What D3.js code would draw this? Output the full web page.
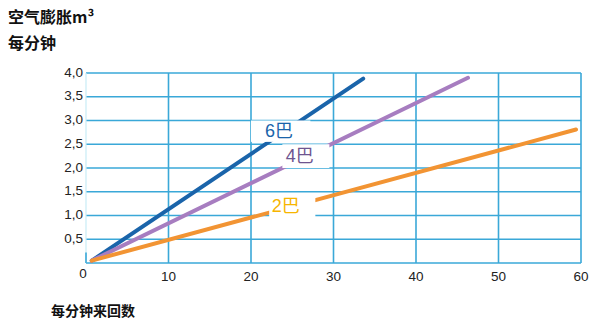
<!DOCTYPE html>
<html><head><meta charset="utf-8">
<script src="https://cdn.jsdelivr.net/npm/d3@7"></script>
<style>body{margin:0;background:#fff}svg{display:block}</style>
</head><body>
<svg id="c" width="593" height="322"></svg>
<script>
const xTicks = [10, 20, 30, 40, 50, 60];
const yTicks = [0.5, 1.0, 1.5, 2.0, 2.5, 3.0, 3.5, 4.0];
const seriesNames = ["6巴", "4巴", "2巴"];
const seriesPoints = [
  [[0.7, 0.05], [33.6, 3.88]],
  [[0.7, 0.05], [46.3, 3.9]],
  [[0.7, 0.05], [59.4, 2.81]]
];
const lineColors = ["#1a64aa", "#a77dc0", "#f29433"];
const labelColors = ["#1a64aa", "#6e5590", "#f7b500"];
// label anchor positions (data coords) and white box extents
const labelPos = [[21.7, 2.75], [24.2, 2.22], [22.5, 1.18]];
const labelBox = [[20, 2.55, 27.2, 3.0], [23.8, 2.0, 29.5, 2.5], [22.2, 0.9, 27.8, 1.4]];

const svg = d3.select("#c");
const x = d3.scaleLinear().domain([0, 60]).range([86, 581]);
const y = d3.scaleLinear().domain([0, 4]).range([263, 73]);
const grid = "#3aa8d8";

// grid
svg.append("g").selectAll("line").data(yTicks).join("line")
  .attr("x1", x(0)).attr("x2", x(60)).attr("y1", d => y(d)).attr("y2", d => y(d))
  .attr("stroke", grid).attr("stroke-width", 1.6);
svg.append("g").selectAll("line").data(xTicks).join("line")
  .attr("y1", y(0)).attr("y2", y(4)).attr("x1", d => x(d)).attr("x2", d => x(d))
  .attr("stroke", grid).attr("stroke-width", 1.6);
svg.append("line").attr("x1", x(0)).attr("x2", x(60)).attr("y1", y(0)).attr("y2", y(0))
  .attr("stroke", grid).attr("stroke-width", 1.6);
svg.append("line").attr("x1", x(0)).attr("x2", x(0)).attr("y1", y(0)).attr("y2", y(4))
  .attr("stroke", "#c8ecf6").attr("stroke-width", 1.2);
svg.append("line").attr("x1", x(0)).attr("x2", x(0)).attr("y1", y(0)).attr("y2", y(0.22))
  .attr("stroke", grid).attr("stroke-width", 1.6);

// lines
const line = d3.line().x(d => x(d[0])).y(d => y(d[1]));
svg.append("g").selectAll("path").data(seriesPoints).join("path")
  .attr("d", line).attr("fill", "none")
  .attr("stroke", (d, i) => lineColors[i]).attr("stroke-width", 4)
  .attr("stroke-linecap", "round");

// label boxes
svg.append("g").selectAll("rect").data(labelBox).join("rect")
  .attr("x", d => x(d[0])).attr("y", d => y(d[3]))
  .attr("width", d => x(d[2]) - x(d[0])).attr("height", d => y(d[1]) - y(d[3]))
  .attr("fill", "#fff");
svg.append("g").selectAll("text").data(seriesNames).join("text")
  .attr("x", (d, i) => x(labelPos[i][0])).attr("y", (d, i) => y(labelPos[i][1]))
  .attr("fill", (d, i) => labelColors[i])
  .attr("font-family", "Liberation Sans, Noto Sans CJK SC, sans-serif")
  .attr("font-size", 18).attr("dominant-baseline", "middle")
  .text(d => d);

// axis labels
const fmt = d => d.toFixed(1).replace(".", ",");
svg.append("g").selectAll("text").data(yTicks).join("text")
  .attr("x", 83).attr("y", d => y(d)).attr("text-anchor", "end")
  .attr("dominant-baseline", "middle")
  .attr("font-family", "Liberation Sans, Arial, sans-serif").attr("font-size", 13.5)
  .attr("fill", "#222").text(fmt);
svg.append("g").selectAll("text").data(xTicks).join("text")
  .attr("x", d => x(d)).attr("y", 277).attr("text-anchor", "middle")
  .attr("dominant-baseline", "middle")
  .attr("font-family", "Liberation Sans, Arial, sans-serif").attr("font-size", 13.5)
  .attr("fill", "#222").text(d => d);
svg.append("text").attr("x", 83).attr("y", 274).attr("text-anchor", "middle")
  .attr("dominant-baseline", "middle")
  .attr("font-family", "Liberation Sans, Arial, sans-serif").attr("font-size", 13.5)
  .attr("fill", "#222").text("0");

// titles
const tf = "Noto Sans CJK SC, sans-serif";
svg.append("text").attr("x", 8).attr("y", 23).attr("font-family", tf)
  .attr("font-size", 16).attr("font-weight", "bold").attr("fill", "#111").text("空气膨胀m³");
svg.append("text").attr("x", 8).attr("y", 49).attr("font-family", tf)
  .attr("font-size", 16).attr("font-weight", "bold").attr("fill", "#111").text("每分钟");
svg.append("text").attr("x", 51).attr("y", 316).attr("font-family", tf)
  .attr("font-size", 14).attr("font-weight", "bold").attr("fill", "#111").text("每分钟来回数");
</script>
</body></html>
